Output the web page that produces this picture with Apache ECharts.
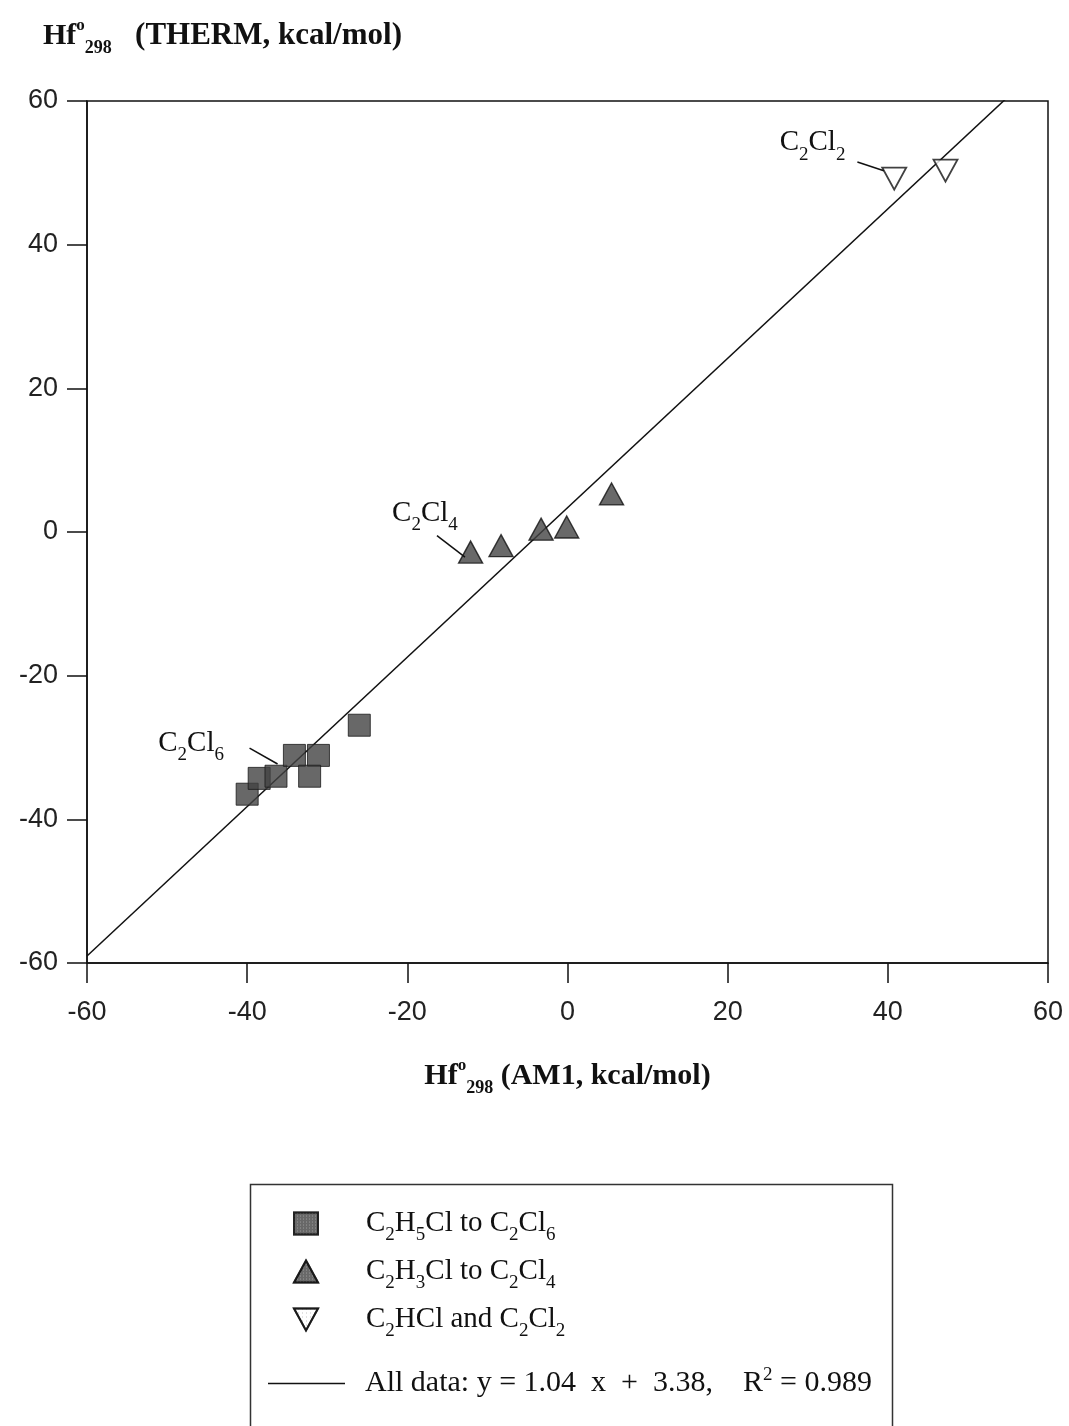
<!DOCTYPE html>
<html>
<head>
<meta charset="utf-8">
<script src="https://cdn.jsdelivr.net/npm/echarts@6/dist/echarts.min.js"></script>
<style>
  html, body { margin: 0; padding: 0; background: #fff; }
  #chart { width: 1069px; height: 1426px; }
</style>
</head>
<body>
<div id="chart"></div>
<script>
// Heats of formation at 298 K: AM1 estimates vs THERM group-additivity values (kcal/mol)
const ethaneNames = 'C2H5Cl to C2Cl6';
const ethaneAM1   = [-40.0, -38.5, -36.4, -34.1, -31.1, -32.2, -26.0];
const ethaneTherm = [-36.5, -34.3, -34.0, -31.1, -31.1, -34.0, -26.9];

const ethyleneNames = 'C2H3Cl to C2Cl4';
const ethyleneAM1   = [-12.1, -8.3, -3.3, -0.1, 5.5];
const ethyleneTherm = [-2.8, -1.9, 0.4, 0.7, 5.3];

const acetyleneNames = 'C2HCl and C2Cl2';
const acetyleneAM1   = [40.8, 47.2];
const acetyleneTherm = [49.2, 50.3];

// least-squares fit over all compounds
const fitSlope = 1.04;
const fitIntercept = 3.38;
const fitR2 = 0.989;
const fitXRange = [-60, 60];

// axis scale
const axisMin = -60;
const axisMax = 60;
const axisStep = 20;

// labelled compounds: text position and leader line (data units)
const calloutLabels = ['C2Cl6', 'C2Cl4', 'C2Cl2'];
const calloutAt     = [[-47.0, -29.4], [-17.8, 2.6], [30.6, 54.2]];
const leaderFrom    = [[-39.7, -30.1], [-16.3, -0.5], [36.2, 51.5]];
const leaderTo      = [[-36.2, -32.3], [-12.8, -3.5], [39.5, 50.3]];

const SERIF = '"Liberation Serif", "Times New Roman", serif';
const SANS = '"Liberation Sans", Arial, sans-serif';
const INK = '#111';

// digits following an element symbol become subscripts
function chem(s) {
  return s.replace(/([A-Za-z])(\d+)/g, '$1{sub|$2}');
}

function pairs(xs, ys) {
  return xs.map((x, i) => [x, ys[i]]);
}

const textRich = {
  sub: { fontFamily: SERIF, fontSize: 19, color: INK, lineHeight: 34, padding: [24, 0, 0, 0] },
  sup: { fontFamily: SERIF, fontSize: 19, color: INK, lineHeight: 34, padding: [0, 0, 16, 0] },
  sp1: { width: 43 },
  sp2: { width: 15 }
};

const fitName = 'All data';
const fitLabel = 'All data: y = ' + fitSlope.toFixed(2) + '  x  +  ' + fitIntercept.toFixed(2) +
  ',    R{sup|2} = ' + fitR2.toFixed(3);

const chart = echarts.init(document.getElementById('chart'), null, { renderer: 'canvas' });

const titleRich = {
  b:   { fontFamily: SERIF, fontSize: 30, fontWeight: 'bold', color: INK },
  bl:  { fontFamily: SERIF, fontSize: 31, fontWeight: 'bold', color: INK },
  bsup:{ fontFamily: SERIF, fontSize: 17, fontWeight: 'bold', color: INK, padding: [0, 0, 20, 0] },
  bsub:{ fontFamily: SERIF, fontSize: 18, fontWeight: 'bold', color: INK, padding: [24, 0, 0, 0] }
};

const option = {
  backgroundColor: '#fff',
  animation: false,
  title: {
    left: 38,
    top: 10,
    text: '{b|Hf}{bsup|o}{bsub|298}{bl|   (THERM, kcal/mol)}',
    textStyle: { rich: titleRich }
  },
  grid: {
    left: 87, right: 21, top: 101, bottom: 463,
    show: true, borderColor: INK, borderWidth: 1.5, backgroundColor: 'transparent'
  },
  xAxis: {
    type: 'value', min: axisMin, max: axisMax, interval: axisStep,
    name: '{b|Hf}{bsup|o}{bsub|298}{b| (AM1, kcal/mol)}',
    nameLocation: 'middle', nameGap: 92,
    nameTextStyle: { rich: titleRich },
    axisLine: { onZero: false, lineStyle: { color: INK, width: 1.5 } },
    axisTick: { inside: false, length: 20, lineStyle: { color: INK, width: 1.5 } },
    axisLabel: { fontFamily: SANS, fontSize: 27, color: '#222', margin: 36 },
    splitLine: { show: false }
  },
  yAxis: {
    type: 'value', min: axisMin, max: axisMax, interval: axisStep,
    axisLine: { onZero: false, lineStyle: { color: INK, width: 1.5 } },
    axisTick: { inside: false, length: 20, lineStyle: { color: INK, width: 1.5 } },
    axisLabel: { fontFamily: SANS, fontSize: 27, color: '#222', margin: 29 },
    splitLine: { show: false }
  },
  legend: [
    {
      orient: 'vertical', left: 293, top: 1202, padding: 0,
      itemWidth: 24, itemHeight: 22, itemGap: 5,
      data: [ethaneNames, ethyleneNames, acetyleneNames],
      formatter: name => '{sp1|}' + chem(name),
      textStyle: { fontFamily: SERIF, fontSize: 29, color: INK, lineHeight: 34, rich: textRich },
      selectedMode: false
    },
    {
      orient: 'vertical', left: 268, top: 1366, padding: 0,
      itemWidth: 77, itemHeight: 1.5,
      data: [{ name: fitName, icon: 'rect' }],
      formatter: () => '{sp2|}' + fitLabel,
      textStyle: { fontFamily: SERIF, fontSize: 30, color: INK, lineHeight: 34, rich: textRich },
      selectedMode: false
    }
  ],
  graphic: [
    {
      type: 'rect', left: 248, top: 1182, silent: true, z: -1,
      shape: { width: 642, height: 270 },
      style: { fill: 'none', stroke: '#333', lineWidth: 1.5 }
    }
  ],
  series: [
    {
      name: fitName,
      type: 'line',
      data: fitXRange.map(x => [x, fitSlope * x + fitIntercept]),
      symbol: 'none',
      clip: true,
      lineStyle: { color: INK, width: 1.5 },
      itemStyle: { color: INK },
      z: 1,
      silent: true
    },
    {
      name: ethaneNames,
      type: 'scatter',
      data: pairs(ethaneAM1, ethaneTherm),
      symbol: 'rect',
      symbolSize: 22,
      itemStyle: {
        color: '#424242', borderColor: '#1a1a1a', borderWidth: 1,
        decal: { symbol: 'rect', symbolSize: 1, color: 'rgba(255,255,255,0.4)', dashArrayX: [1, 2], dashArrayY: [1, 2] }
      },
      z: 3
    },
    {
      name: ethyleneNames,
      type: 'scatter',
      data: pairs(ethyleneAM1, ethyleneTherm),
      symbol: 'triangle',
      symbolSize: [24, 22],
      itemStyle: {
        color: '#444', borderColor: '#111', borderWidth: 1.4,
        decal: { symbol: 'rect', symbolSize: 1, color: 'rgba(255,255,255,0.4)', dashArrayX: [1, 2], dashArrayY: [1, 2] }
      },
      z: 3
    },
    {
      name: acetyleneNames,
      type: 'scatter',
      data: pairs(acetyleneAM1, acetyleneTherm),
      symbol: 'path://M0,0L24,0L12,22Z',
      symbolSize: [24, 22],
      itemStyle: {
        color: '#fff', borderColor: '#111', borderWidth: 1.8,
        decal: { symbol: 'rect', symbolSize: 1, color: 'rgba(0,0,0,0.3)', dashArrayX: [1, 3], dashArrayY: [1, 3] }
      },
      z: 3
    },
    {
      // compound callouts
      type: 'scatter',
      data: [],
      silent: true,
      z: 4,
      markLine: {
        silent: true,
        symbol: ['none', 'none'],
        label: { show: false },
        lineStyle: { color: INK, width: 1.5, type: 'solid' },
        data: leaderFrom.map((p, i) => [{ coord: p }, { coord: leaderTo[i] }])
      },
      markPoint: {
        silent: true,
        symbol: 'circle',
        symbolSize: 1,
        itemStyle: { color: 'rgba(0,0,0,0)' },
        label: {
          show: true, position: 'inside',
          formatter: p => chem(p.name),
          fontFamily: SERIF, fontSize: 29, color: INK, lineHeight: 34,
          rich: textRich
        },
        data: calloutAt.map((p, i) => ({ name: calloutLabels[i], coord: p }))
      }
    }
  ]
};

chart.setOption(option);
</script>
</body>
</html>
